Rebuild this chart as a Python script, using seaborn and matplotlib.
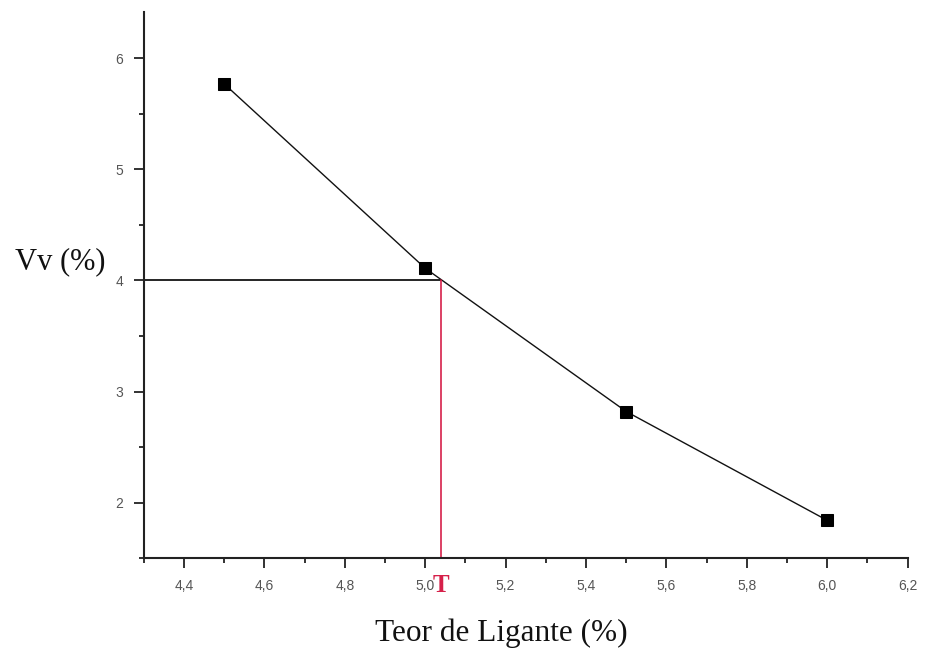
import matplotlib
matplotlib.use("Agg")
import matplotlib.pyplot as plt
from matplotlib.ticker import MultipleLocator, FuncFormatter
import seaborn as sns
import pandas as pd

# Void volume versus binder content
teor_ligante = [4.5, 5.0, 5.5, 6.0]
vv = [5.77, 4.11, 2.82, 1.84]

vv_alvo = 4.0
teor_otimo = 5.04

df = pd.DataFrame({"Teor": teor_ligante, "Vv": vv})

sns.set_style("ticks")
plt.rcParams["font.family"] = ["Liberation Sans", "DejaVu Sans"]
fig = plt.figure(figsize=(9.28, 6.52), dpi=100)
ax = fig.add_axes([0.155, 0.144, 0.823, 0.838])

sns.lineplot(data=df, x="Teor", y="Vv", ax=ax, color="#111111", linewidth=1.0,
             marker="s", markersize=8, markeredgecolor="black",
             markerfacecolor="black")

ax.set_xlim(4.3, 6.2)
ax.set_ylim(1.5, 6.42)

# target void volume and the corresponding binder content
ax.plot([4.3, teor_otimo], [vv_alvo, vv_alvo], color="black", linewidth=1.2)
ax.plot([teor_otimo, teor_otimo], [1.5, vv_alvo], color="#d6204a", linewidth=1.2)

ax.xaxis.set_major_locator(MultipleLocator(0.2))
ax.xaxis.set_minor_locator(MultipleLocator(0.1))
ax.yaxis.set_major_locator(MultipleLocator(1))
ax.yaxis.set_minor_locator(MultipleLocator(0.5))

ax.xaxis.set_major_formatter(FuncFormatter(lambda v, p: f"{v:.1f}".replace(".", ",")))
ax.yaxis.set_major_formatter(FuncFormatter(lambda v, p: f"{v:.0f}"))

ax.tick_params(axis="both", which="major", direction="out", length=7, width=1.3,
               labelsize=10, labelcolor="#555555", color="#222222")
ax.tick_params(axis="both", which="minor", direction="out", length=3.5, width=1.3,
               color="#222222")
ax.tick_params(axis="x", pad=8)
ax.tick_params(axis="y", pad=8)

for side in ("top", "right"):
    ax.spines[side].set_visible(False)
for side in ("left", "bottom"):
    ax.spines[side].set_linewidth(1.5)
    ax.spines[side].set_color("#222222")

ax.set_xlabel("")
ax.set_ylabel("")

fig.text(0.540, 0.028, "Teor de Ligante (%)", ha="center", va="center",
         fontsize=22.5, family="Liberation Serif", color="#111111")
fig.text(0.065, 0.598, "Vv (%)", ha="center", va="center",
         fontsize=22, family="Liberation Serif", color="#111111")

ax.annotate("T", xy=(teor_otimo, 1.5), xytext=(0, -20), textcoords="offset points",
            ha="center", va="center", fontsize=18, fontweight="bold",
            family="Liberation Serif", color="#d6204a", annotation_clip=False)

fig.savefig("out.png", dpi=100)
